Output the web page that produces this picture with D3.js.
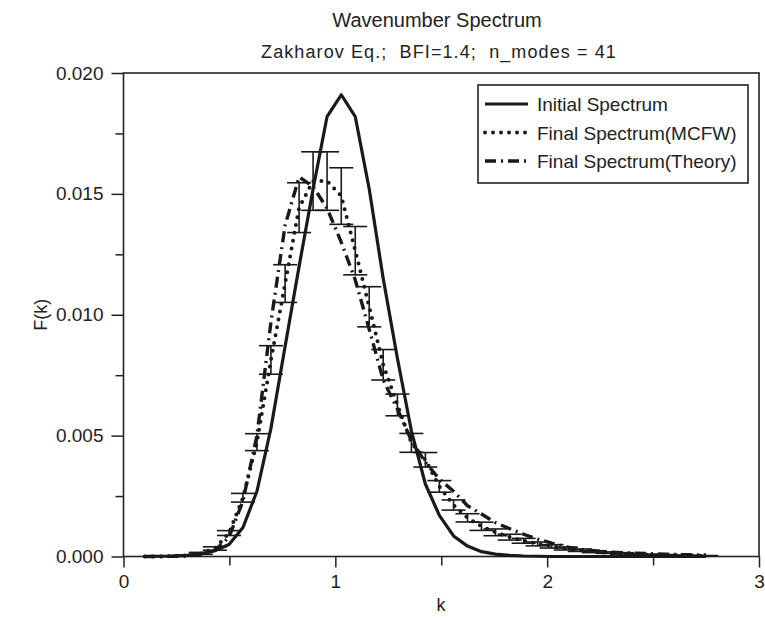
<!DOCTYPE html>
<html>
<head>
<meta charset="utf-8">
<script src="https://cdn.jsdelivr.net/npm/d3@7"></script>
<style>
  body { margin: 0; background: #fff; }
  svg text { font-family: "Liberation Sans", Arial, Helvetica, sans-serif; fill: #222; }
</style>
</head>
<body>
<div id="chart"></div>
<script>
// wavenumbers of the 41 modes
const kValues = [0.100, 0.166, 0.233, 0.299, 0.365, 0.431, 0.498, 0.564, 0.630, 0.696,
    0.763, 0.829, 0.895, 0.961, 1.028, 1.094, 1.160, 1.226, 1.293, 1.359,
    1.425, 1.491, 1.558, 1.624, 1.690, 1.756, 1.823, 1.889, 1.955, 2.021,
    2.088, 2.154, 2.220, 2.286, 2.353, 2.419, 2.485, 2.551, 2.618, 2.684, 2.750];

const initialSpectrum = [0, 0.00001, 0.00002, 0.00005, 0.00011, 0.00024, 0.0005, 0.0012, 0.0027, 0.0053,
    0.0087, 0.0120, 0.0152, 0.0182, 0.0191, 0.0182, 0.0152, 0.0115, 0.0082, 0.0052,
    0.0030, 0.0017, 0.00085, 0.00043, 0.0002, 0.0001, 0.00005, 0.00002, 0.00001, 0,
    0, 0, 0, 0, 0, 0, 0, 0, 0, 0, 0];

const finalMCFW = [0, 0, 0.00002, 0.00005, 0.00013, 0.00033, 0.00097, 0.00243, 0.00473, 0.00813,
    0.01129, 0.01443, 0.01553, 0.01553, 0.01491, 0.01265, 0.01033, 0.00793, 0.00627, 0.0047,
    0.0040, 0.0029, 0.00213, 0.0016, 0.00125, 0.001, 0.0008, 0.00065, 0.00052, 0.00042,
    0.00033, 0.00026, 0.0002, 0.00016, 0.00013, 0.0001, 0.00008, 0.00006, 0.00005, 0.00004, 0.00003];

const errMCFW = [0, 0, 0.00001, 0.00002, 0.00004, 0.00007, 0.0001, 0.00018, 0.00035, 0.00059,
    0.00078, 0.00103, 0.00121, 0.00121, 0.00117, 0.001, 0.00083, 0.00063, 0.00045, 0.00039,
    0.0003, 0.00024, 0.00021, 0.00017, 0.00017, 0.00014, 0.00012, 0.0001, 0.00008, 0.00007,
    0.00006, 0.00005, 0.00004, 0.00003, 0.00003, 0.00002, 0.00002, 0.00002, 0.00001, 0.00001, 0.00001];

const finalTheory = [0, 0, 0.00001, 0.00002, 0.00008, 0.00025, 0.0008, 0.0023, 0.005, 0.0097,
    0.0137, 0.0157, 0.0153, 0.0144, 0.0130, 0.01144, 0.0094, 0.0073, 0.0061, 0.0048,
    0.0039, 0.0032, 0.0027, 0.0021, 0.00176, 0.0014, 0.00115, 0.00092, 0.00072, 0.00055,
    0.0004, 0.0003, 0.00024, 0.00019, 0.00016, 0.00014, 0.00012, 0.0001, 0.00008, 0.00007, 0.00006];

const xTicks = [0, 1, 2, 3];
const xMinorTicks = [0.5, 1.5, 2.5];
const yTicks = [0, 0.005, 0.010, 0.015, 0.020];
const yMinorTicks = [0.0025, 0.0075, 0.0125, 0.0175];

const legendNames = ["Initial Spectrum", "Final Spectrum(MCFW)", "Final Spectrum(Theory)"];

const W = 765, H = 618;
const plotLeft = 123.5, plotRight = 759, plotTop = 73, plotBottom = 556.5;

let svg = d3.select("#chart").append("svg")
    .attr("width", W)
    .attr("height", H);

const x = d3.scaleLinear().domain([0, 3]).range([plotLeft, plotRight]);
const y = d3.scaleLinear().domain([0, 0.020]).range([plotBottom, plotTop]);

// titles
svg.append("text")
    .attr("x", 437)
    .attr("y", 27)
    .attr("text-anchor", "middle")
    .style("font-size", "20px")
    .text("Wavenumber Spectrum");

svg.append("text")
    .attr("x", 439)
    .attr("y", 58)
    .attr("text-anchor", "middle")
    .style("font-size", "18px")
    .style("letter-spacing", "1.1px")
    .style("white-space", "pre")
    .text("Zakharov Eq.;  BFI=1.4;  n_modes = 41");

// axes
const xAxis = svg.append("g")
    .attr("transform", "translate(0," + plotBottom + ")")
    .call(d3.axisBottom(x).tickValues(xTicks).tickFormat(d3.format("d")).tickSize(11).tickSizeOuter(0).tickPadding(7));
const xMinor = svg.append("g")
    .attr("transform", "translate(0," + plotBottom + ")")
    .call(d3.axisBottom(x).tickValues(xMinorTicks).tickFormat("").tickSize(9).tickSizeOuter(0));
const yAxis = svg.append("g")
    .attr("transform", "translate(" + plotLeft + ",0)")
    .call(d3.axisLeft(y).tickValues(yTicks).tickFormat(d3.format(".3f")).tickSize(12).tickSizeOuter(0).tickPadding(8));
const yMinor = svg.append("g")
    .attr("transform", "translate(" + plotLeft + ",0)")
    .call(d3.axisLeft(y).tickValues(yMinorTicks).tickFormat("").tickSize(8).tickSizeOuter(0));

[xAxis, xMinor, yAxis, yMinor].forEach(function (g) {
    g.select(".domain").remove();
    g.selectAll("line").attr("stroke", "#222").attr("stroke-width", 1.5);
    g.selectAll("text").style("font-size", "19px").attr("fill", "#222");
});

svg.append("rect")
    .attr("x", plotLeft)
    .attr("y", plotTop)
    .attr("width", plotRight - plotLeft)
    .attr("height", plotBottom - plotTop)
    .attr("fill", "none")
    .attr("stroke", "#222")
    .attr("stroke-width", 1.6);

svg.append("text")
    .attr("x", 441)
    .attr("y", 611)
    .attr("text-anchor", "middle")
    .style("font-size", "18px")
    .text("k");

svg.append("text")
    .attr("transform", "translate(47," + ((plotTop + plotBottom) / 2) + ") rotate(-90)")
    .attr("text-anchor", "middle")
    .style("font-size", "18px")
    .text("F(k)");

// curves
function lineOf(values) {
    return d3.line()
        .x(function (d, i) { return x(kValues[i]); })
        .y(function (d) { return y(d); })(values);
}

const styles = [
    { dash: null, width: 3.2, cap: "butt" },
    { dash: "0,8", width: 4, cap: "round" },
    { dash: "11,5,2,5", width: 3.4, cap: "butt" }
];

const series = [initialSpectrum, finalMCFW, finalTheory];

series.forEach(function (values, s) {
    svg.append("path")
        .attr("d", lineOf(values))
        .attr("fill", "none")
        .attr("stroke", "#1a1a1a")
        .attr("stroke-width", styles[s].width)
        .attr("stroke-linecap", styles[s].cap)
        .attr("stroke-linejoin", "round")
        .attr("stroke-dasharray", styles[s].dash);
});

// error bars on the MCFW spectrum
const capHalf = 12;
const bars = svg.append("g").attr("stroke", "#1a1a1a").attr("stroke-width", 1.6);
finalMCFW.forEach(function (v, i) {
    if (errMCFW[i] <= 0) return;
    const cx = x(kValues[i]);
    const yHi = y(v + errMCFW[i]);
    const yLo = y(v - errMCFW[i]);
    bars.append("line").attr("x1", cx).attr("x2", cx).attr("y1", yHi).attr("y2", yLo);
    bars.append("line").attr("x1", cx - capHalf).attr("x2", cx + capHalf).attr("y1", yHi).attr("y2", yHi);
    bars.append("line").attr("x1", cx - capHalf).attr("x2", cx + capHalf).attr("y1", yLo).attr("y2", yLo);
});

// legend
const legend = svg.append("g");
legend.append("rect")
    .attr("x", 478)
    .attr("y", 85)
    .attr("width", 270)
    .attr("height", 98)
    .attr("fill", "#fff")
    .attr("stroke", "#222")
    .attr("stroke-width", 1.6);

legendNames.forEach(function (name, s) {
    const ly = 104 + s * 28.5;
    legend.append("line")
        .attr("x1", 485)
        .attr("x2", 528)
        .attr("y1", ly)
        .attr("y2", ly)
        .attr("stroke", "#1a1a1a")
        .attr("stroke-width", styles[s].width)
        .attr("stroke-linecap", styles[s].cap)
        .attr("stroke-dasharray", styles[s].dash);
    legend.append("text")
        .attr("x", 537)
        .attr("y", ly + 7)
        .style("font-size", "19px")
        .text(name);
});
</script>
</body>
</html>
